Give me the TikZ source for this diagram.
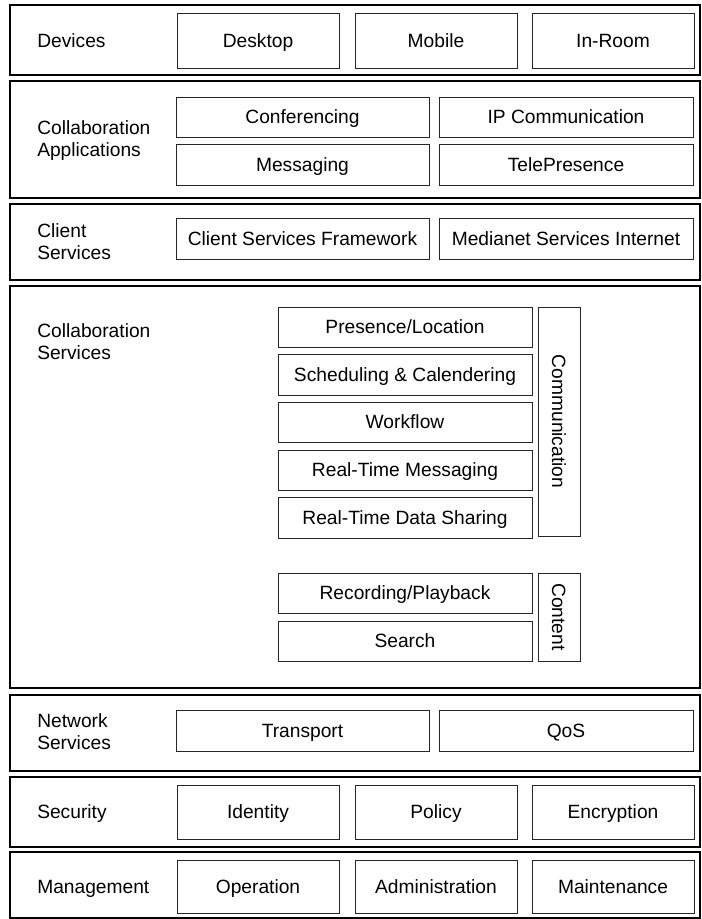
\documentclass[tikz,border=0pt]{standalone}
\usepackage{fontspec}
\setmainfont{Liberation Sans}
\usepackage{tikz}
\usetikzlibrary{calc}

\tikzset{
  layer/.style 2 args={draw, line width=0.8pt, inner sep=0pt, outer sep=0pt,
    minimum width=#1*0.75pt, minimum height=#2*0.75pt},
  unitbox/.style 2 args={draw=black!85, line width=0.7pt, inner sep=0pt, outer sep=0pt,
    text height=10.3pt, text depth=0pt,
    minimum width=#1*0.75pt, minimum height=#2*0.75pt},
  tag/.style={anchor=west, align=left, inner sep=0pt},
  onetag/.style={tag, text height=10.3pt, text depth=0pt}
}

\begin{document}
\begin{tikzpicture}[x=0.75pt, y=-0.75pt, font=\fontsize{14.4}{16.5}\selectfont]
\useasboundingbox (0,0) rectangle (701,919);

% layers
\node[layer={690}{70}] (devices) at (355,40) {};
\node[layer={690}{117}] (apps) at (355,139.5) {};
\node[layer={690}{76}] (client) at (355,242) {};
\node[layer={690}{402}] (collab) at (355,487) {};
\node[layer={690}{76}] (network) at (355,733) {};
\node[layer={690}{70}] (security) at (355,812) {};
\node[layer={690}{66}] (mgmt) at (355,885) {};

% layer names
\node[onetag] (devicesT) at (37,41) {Devices};
\node[tag] (appsT) at (37,141) {Collaboration\\Applications};
\node[tag] (clientT) at (37,242) {Client\\Services};
\node[tag] (collabT) at (37,342) {Collaboration\\Services};
\node[tag] (networkT) at (37,732) {Network\\Services};
\node[onetag] (securityT) at (37,812) {Security};
\node[onetag] (mgmtT) at (37,886.5) {Management};

% devices
\node[unitbox={162}{55}] (desktop) at (258,40.5) {Desktop};
\node[unitbox={162}{55}] (mobile) at (436,40.5) {Mobile};
\node[unitbox={162}{55}] (inroom) at (613,40.5) {In-Room};

% collaboration applications
\node[unitbox={253}{40}] (conf) at (302.5,117) {Conferencing};
\node[unitbox={254}{40}] (ipcomm) at (566,117) {IP Communication};
\node[unitbox={253}{41}] (msg) at (302.5,164.5) {Messaging};
\node[unitbox={254}{41}] (telep) at (566,164.5) {TelePresence};

% client services
\node[unitbox={253}{41}] (csf) at (302.5,238.5) {Client Services Framework};
\node[unitbox={254}{41}] (medianet) at (566,238.5) {Medianet Services Internet};

% collaboration services
\node[unitbox={254}{40}] (presence) at (405,327) {Presence/Location};
\node[unitbox={254}{41}] (sched) at (405,374.5) {Scheduling \& Calendering};
\node[unitbox={254}{40}] (workflow) at (405,422) {Workflow};
\node[unitbox={254}{40}] (rtmsg) at (405,470) {Real-Time Messaging};
\node[unitbox={254}{41}] (rtdata) at (405,517.5) {Real-Time Data Sharing};
\node[unitbox={229}{42}, rotate=-90] (comm) at (559,421.5) {Communication};

\node[unitbox={254}{40}] (rec) at (405,593) {Recording/Playback};
\node[unitbox={254}{40}] (search) at (405,641) {Search};
\node[unitbox={88}{42}, rotate=-90] (content) at (559,617) {Content};

% network services
\node[unitbox={253}{41}] (transport) at (302.5,730.5) {Transport};
\node[unitbox={254}{41}] (qos) at (566,730.5) {QoS};

% security
\node[unitbox={162}{54}] (identity) at (258,812) {Identity};
\node[unitbox={162}{54}] (policy) at (436,812) {Policy};
\node[unitbox={162}{54}] (encrypt) at (613,812) {Encryption};

% management
\node[unitbox={162}{53}] (operation) at (258,886.5) {Operation};
\node[unitbox={162}{53}] (admin) at (436,886.5) {Administration};
\node[unitbox={162}{53}] (maint) at (613,886.5) {Maintenance};

\end{tikzpicture}
\end{document}
